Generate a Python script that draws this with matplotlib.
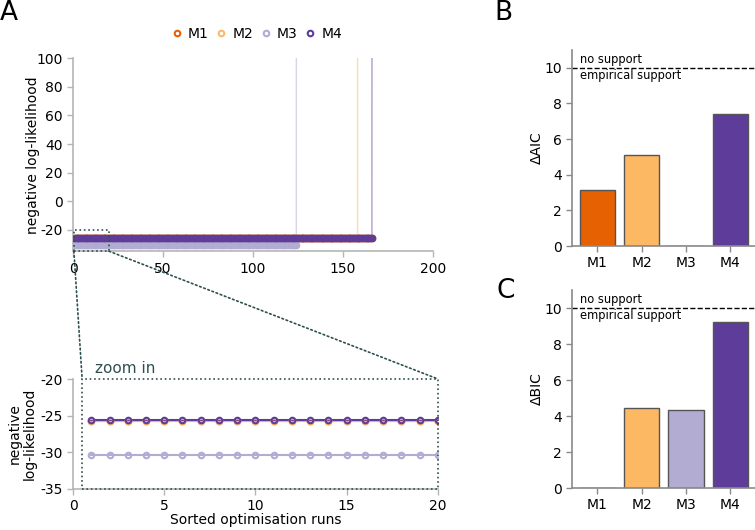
import numpy as np
import matplotlib
matplotlib.use("Agg")
import matplotlib.pyplot as plt
from matplotlib.patches import Rectangle, ConnectionPatch

models = ["M1", "M2", "M3", "M4"]
colors = ["#e66101", "#fdb863", "#b2abd2", "#5e3c99"]

# optimisation runs per model; diverged runs shoot far above the axis
n_runs = [166, 159, 125, 167]
n_diverged = [0, 1, 1, 1]
nll_best = [-25.7, -25.75, -30.3, -25.6]
nll_diverged = 5000
n_zoom = 20

delta_aic = [3.17, 5.08, 0.0, 7.38]
delta_bic = [0.0, 4.42, 4.32, 9.20]

plt.rcParams["font.family"] = "DejaVu Sans"
plt.rcParams["font.size"] = 10
plt.rcParams["axes.unicode_minus"] = False

fig = plt.figure(figsize=(7.55, 5.3), dpi=100)
ax_top = fig.add_axes([0.0967, 0.526, 0.477, 0.364])
ax_bot = fig.add_axes([0.0967, 0.0774, 0.4834, 0.2075])
ax_b = fig.add_axes([0.7576, 0.5358, 0.245, 0.370])
ax_c = fig.add_axes([0.7576, 0.0792, 0.245, 0.3736])

spine_col = "#b5b5b5"
zoom_col = "#2f4f4f"


def style(ax, col):
    for s in ["top", "right"]:
        ax.spines[s].set_visible(False)
    for s in ["left", "bottom"]:
        ax.spines[s].set_color(col)
        ax.spines[s].set_linewidth(1.2)
    ax.tick_params(colors=col, labelcolor="black", length=4, width=1)


# panel A top: all runs
for i, m in enumerate(models):
    n = n_runs[i]
    x = np.arange(1, n + 1)
    y = np.full(n, nll_best[i])
    if n_diverged[i]:
        y[-n_diverged[i]:] = nll_diverged
    ax_top.plot(x, y, "-", color=colors[i], lw=1, alpha=0.5, zorder=2)
    keep = y < 100
    ax_top.plot(x[keep], y[keep], "o", mfc="none", mec=colors[i], mew=1.5, ms=4,
                label=m, zorder=3)
ax_top.set_xlim(0, 200)
ax_top.set_ylim(-35, 100)
ax_top.set_yticks([-20, 0, 20, 40, 60, 80, 100])
ax_top.set_xticks([0, 50, 100, 150, 200])
ax_top.set_ylabel("negative log-likelihood")
ax_top.yaxis.set_label_coords(-0.092, 0.5)
style(ax_top, spine_col)
ax_top.legend(loc="lower center", bbox_to_anchor=(0.51, 1.04), ncol=4, frameon=False,
              handletextpad=0.4, columnspacing=0.5, handlelength=0.8,
              borderpad=0.2)
ax_top.add_patch(Rectangle((0.5, -35), n_zoom - 0.5, 15, fill=False, ls=":",
                           ec=zoom_col, lw=1.2, clip_on=False, zorder=5))

# panel A bottom: zoom on first runs
for i, m in enumerate(models):
    x = np.arange(1, n_zoom + 1)
    y = np.full(n_zoom, nll_best[i])
    ax_bot.plot(x, y, "-", color=colors[i], lw=1.5, zorder=2)
    ax_bot.plot(x, y, "o", mfc="none", mec=colors[i], mew=1.5, ms=4, zorder=3)
ax_bot.set_xlim(0, 20)
ax_bot.set_ylim(-35, -20)
ax_bot.set_yticks([-35, -30, -25, -20])
ax_bot.set_xticks([0, 5, 10, 15, 20])
ax_bot.set_xlabel("Sorted optimisation runs", labelpad=0)
ax_bot.set_ylabel("negative\nlog-likelihood", linespacing=1.1)
ax_bot.yaxis.set_label_coords(-0.1, 0.5)
style(ax_bot, spine_col)
ax_bot.add_patch(Rectangle((0.5, -35), n_zoom - 0.5, 15, fill=False, ls=":",
                           ec=zoom_col, lw=1.2, clip_on=False, zorder=5))
ax_bot.text(1.2, -19.6, "zoom in", color=zoom_col, fontsize=11, va="bottom")

for xa in [0.5, n_zoom]:
    con = ConnectionPatch(xyA=(xa, -35), coordsA=ax_top.transData,
                          xyB=(xa, -20), coordsB=ax_bot.transData,
                          ls=":", color=zoom_col, lw=1.2)
    fig.add_artist(con)

# panels B and C
for ax, vals, lab in [(ax_b, delta_aic, "\u0394AIC"), (ax_c, delta_bic, "\u0394BIC")]:
    ax.bar(np.arange(4), vals, width=0.8, color=colors, edgecolor="#555555", lw=1)
    ax.axhline(10, color="black", ls="--", lw=1)
    ax.text(-0.38, 10.1, "no support", fontsize=8.3, va="bottom")
    ax.text(-0.38, 9.92, "empirical support", fontsize=8.3, va="top")
    ax.set_xlim(-0.57, 3.6)
    ax.set_ylim(0, 11)
    ax.set_yticks([0, 2, 4, 6, 8, 10])
    ax.set_xticks(np.arange(4))
    ax.set_xticklabels(models)
    ax.set_ylabel(lab)
    ax.yaxis.set_label_coords(-0.15, 0.5)
    style(ax, "#8a8a8a")

fig.text(0.0, 1.0, "A", fontsize=19, va="top", ha="left")
fig.text(0.655, 1.0, "B", fontsize=19, va="top", ha="left")
fig.text(0.657, 0.475, "C", fontsize=19, va="top", ha="left")

fig.savefig("out.png", dpi=100)
